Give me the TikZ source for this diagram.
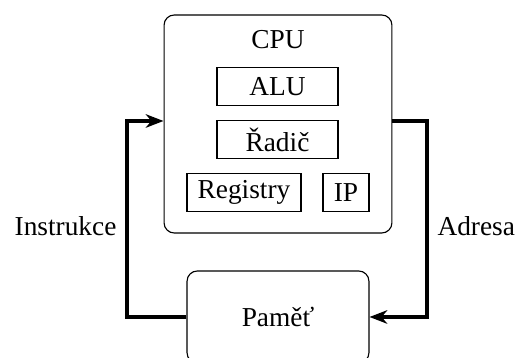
\documentclass[tikz,border=0pt]{standalone}
\usepackage{fontspec}
\setmainfont{Liberation Serif}
\usetikzlibrary{arrows.meta}
\tikzset{
  unit/.style={draw, inner sep=0pt, minimum height=13.6pt},
  block/.style={draw, rounded corners=3.6pt, inner sep=0pt},
  flow/.style={line width=1.2pt, -{Stealth[length=6.3pt, width=4.8pt, inset=2pt]}},
}
\begin{document}
\begin{tikzpicture}[x=0.3546pt, y=-0.3546pt, font=\fontsize{9.7}{11.6}\selectfont]
      \useasboundingbox (0,0) rectangle (518,358);
      \coordinate (lt) at (127,121);
      \coordinate (rt) at (427,121);
      \node[block, minimum width=80.8pt, minimum height=77.3pt] (cpu) at (278,124) {};
      \node (cpulbl) at (278,40) {CPU};
      \node[unit, minimum width=42.9pt] (alu) at (277.5,86.5) {ALU};
      \node[unit, minimum width=42.9pt] (radic) at (277.5,139.5) {Řadič};
      \node[unit, minimum width=40.4pt] (reg) at (244,192.5) {Registry};
      \node[unit, minimum width=16.3pt] (ip) at (346,192.5) {IP};
      \node[block, minimum width=64.5pt, minimum height=32.6pt] (pamet) at (278,317) {Paměť};
      \draw[flow] (pamet.west) -| (lt) -- (cpu.west |- lt);
      \draw[flow] (cpu.east |- rt) -- (rt) |- (pamet.east);
      \node[anchor=east, inner sep=0pt] (instr) at (117,226) {Instrukce};
      \node[anchor=west, inner sep=0pt] (adr) at (437,226) {Adresa};
    \end{tikzpicture}
\end{document}
